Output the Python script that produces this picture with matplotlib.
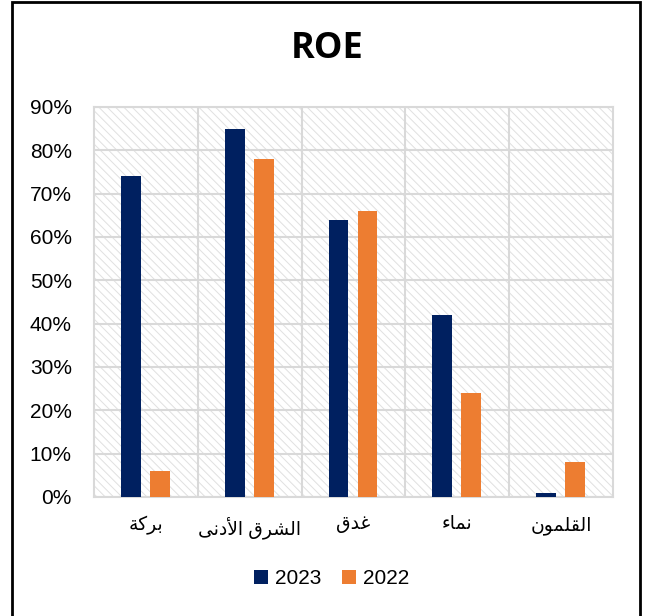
import numpy as np
import matplotlib
matplotlib.use('Agg')
import matplotlib.pyplot as plt
from matplotlib.patches import Rectangle

# data
banks = ['بركة', 'الشرق الأدنى', 'غدق', 'نماء', 'القلمون']
roe_2023 = [74, 85, 64, 42, 1]
roe_2022 = [6, 78, 66, 24, 8]
series_names = ['2023', '2022']
y_ticks = list(range(0, 91, 10))

# minimal arabic shaping (matplotlib has no text layout engine for it)
FORMS = {
    'ا': (0xFE8D, 0xFE8E, None, None), 'أ': (0xFE83, 0xFE84, None, None),
    'ب': (0xFE8F, 0xFE90, 0xFE91, 0xFE92), 'ة': (0xFE93, 0xFE94, None, None),
    'د': (0xFEA9, 0xFEAA, None, None), 'ر': (0xFEAD, 0xFEAE, None, None),
    'ش': (0xFEB5, 0xFEB6, 0xFEB7, 0xFEB8), 'غ': (0xFECD, 0xFECE, 0xFECF, 0xFED0),
    'ق': (0xFED5, 0xFED6, 0xFED7, 0xFED8), 'ك': (0xFED9, 0xFEDA, 0xFEDB, 0xFEDC),
    'ل': (0xFEDD, 0xFEDE, 0xFEDF, 0xFEE0), 'م': (0xFEE1, 0xFEE2, 0xFEE3, 0xFEE4),
    'ن': (0xFEE5, 0xFEE6, 0xFEE7, 0xFEE8), 'و': (0xFEED, 0xFEEE, None, None),
    'ى': (0xFEEF, 0xFEF0, None, None), 'ء': (0xFE80, None, None, None),
}
LAM_ALEF = {'ا': (0xFEFB, 0xFEFC), 'أ': (0xFEF7, 0xFEF8)}


def joins_left(c):
    return c in FORMS and FORMS[c][2] is not None


def joins_right(c):
    return c in FORMS and FORMS[c][1] is not None


def shape(text):
    out = []
    i = 0
    while i < len(text):
        c = text[i]
        prev = text[i - 1] if i > 0 else ''
        nxt = text[i + 1] if i + 1 < len(text) else ''
        from_prev = joins_left(prev)
        if c == 'ل' and nxt in LAM_ALEF:
            out.append(chr(LAM_ALEF[nxt][1 if from_prev else 0]))
            i += 2
            continue
        if c not in FORMS:
            out.append(c)
            i += 1
            continue
        iso, fin, ini, med = FORMS[c]
        to_next = joins_left(c) and joins_right(nxt)
        if from_prev and to_next:
            code = med
        elif from_prev and fin:
            code = fin
        elif to_next:
            code = ini
        else:
            code = iso
        out.append(chr(code))
        i += 1
    return ''.join(reversed(out))


fam = ['Liberation Sans', 'DejaVu Sans']
plt.rcParams['font.family'] = fam
plt.rcParams['hatch.linewidth'] = 0.7

fig = plt.figure(figsize=(6.47, 6.16), dpi=100)
ax = fig.add_axes([94 / 647, 1 - 497 / 616, (613 - 94) / 647, (497 - 107) / 616])

# outer chart border
fig.patches.append(Rectangle((12 / 647, -0.02), (640 - 12) / 647, 1 - 2 / 616 + 0.02,
                             transform=fig.transFigure, fill=False,
                             edgecolor='black', linewidth=2))

x = np.arange(len(banks))
ax.add_patch(Rectangle((-0.5, 0), len(banks), 90, facecolor='white',
                       hatch='\\\\\\\\', edgecolor='#e0e0e0', linewidth=0, zorder=0))
ax.bar(x - 0.145, roe_2023, width=0.19, color='#002060', label=series_names[0], zorder=3)
ax.bar(x + 0.135, roe_2022, width=0.19, color='#ED7D31', label=series_names[1], zorder=3)

ax.set_xlim(-0.5, len(banks) - 0.5)
ax.set_ylim(0, 90)
ax.set_yticks(y_ticks)
ax.set_yticklabels(['%d%%' % t for t in y_ticks], fontsize=15)
ax.set_xticks(x)
ax.set_xticklabels([shape(b) for b in banks], fontsize=13.5, family=fam)
ax.tick_params(length=0)
ax.tick_params(axis='y', pad=16)
ax.tick_params(axis='x', pad=14)

for y in y_ticks:
    ax.axhline(y, color='#d9d9d9', linewidth=1.5, zorder=1)
for xv in np.arange(0.5, len(banks) - 0.5, 1):
    ax.axvline(xv, color='#d9d9d9', linewidth=1.5, zorder=1)
for s in ax.spines.values():
    s.set_color('#d9d9d9')
    s.set_linewidth(1.5)

fig.text(327 / 647, 1 - 49 / 616, 'ROE', ha='center', va='center',
         fontsize=26, fontweight='bold', family='Open Sans')

fig.legend(loc='center', bbox_to_anchor=(332 / 647, 1 - 579 / 616), ncol=2,
           frameon=False, fontsize=15, handlelength=0.65, handleheight=0.65,
           columnspacing=1.0, handletextpad=0.35)

fig.savefig('out.png', dpi=100)
